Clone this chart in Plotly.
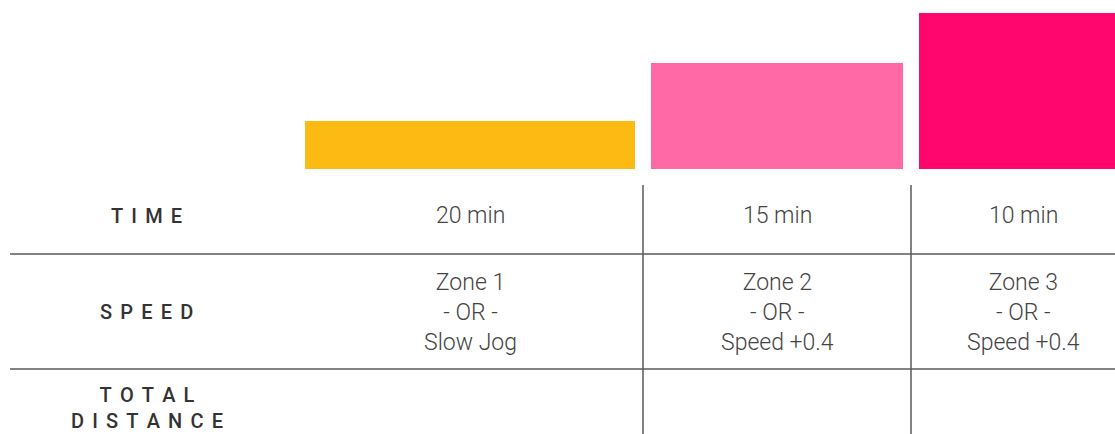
import plotly.graph_objects as go

# ---- data ----
zones = ["Zone 1", "Zone 2", "Zone 3"]
intensity = [1.0, 2.2, 3.25]
times = ["20 min", "15 min", "10 min"]
speeds = ["Zone 1<br>- OR -<br>Slow Jog",
          "Zone 2<br>- OR -<br>Speed +0.4",
          "Zone 3<br>- OR -<br>Speed +0.4"]
row_labels = ["TIME", "SPEED", "TOTAL<br>DISTANCE"]
colors = ["#FDBA12", "#FF6AA6", "#FF066E"]

# ---- layout constants (pixels) ----
W, H = 1115, 434
col_edges = [297, 643, 911, 1135]
pad = 8
label_x = 146.5
bar_base_px = 169
unit_px = 48.0
table_top_px = 185
hlines_px = [254, 369]
row_centers_px = [216, 312, 408]
line_color = "#5a5a5a"
text_color = "#444444"


def py(px):
    return (H - px) / H


def spaced(s):
    return "<br>".join("\u2009\u2009".join(list(part)) for part in s.split("<br>"))


centers = [(col_edges[i] + col_edges[i + 1]) / 2 for i in range(3)]
widths = [col_edges[i + 1] - col_edges[i] - 2 * pad for i in range(3)]

fig = go.Figure()
fig.add_trace(go.Bar(
    x=centers, y=intensity, width=widths,
    marker=dict(color=colors, line=dict(width=0)),
    hoverinfo="skip", showlegend=False,
))

shapes = []
for ypx in hlines_px:
    shapes.append(dict(type="line", xref="x", yref="paper",
                       x0=10, x1=W, y0=py(ypx), y1=py(ypx),
                       line=dict(color=line_color, width=1.5)))
for xe in col_edges[1:3]:
    shapes.append(dict(type="line", xref="x", yref="paper",
                       x0=xe, x1=xe, y0=py(table_top_px), y1=0,
                       line=dict(color=line_color, width=1.5)))

annotations = []
label_font = dict(family="Roboto, Liberation Sans, sans-serif", size=20,
                  color="#333333", weight=500)
value_font = dict(family="Roboto, Liberation Sans, sans-serif", size=23,
                  color=text_color, weight=300)
for lab, ypx in zip(row_labels, row_centers_px):
    annotations.append(dict(x=label_x, y=py(ypx), xref="x", yref="paper",
                            text=spaced(lab), showarrow=False,
                            xanchor="center", yanchor="middle",
                            font=label_font))
for c, t in zip(centers, times):
    annotations.append(dict(x=c, y=py(row_centers_px[0]), xref="x", yref="paper",
                            text=t, showarrow=False, xanchor="center",
                            yanchor="middle", font=value_font))
for c, s in zip(centers, speeds):
    annotations.append(dict(x=c, y=py(row_centers_px[1]), xref="x", yref="paper",
                            text=s, showarrow=False, xanchor="center",
                            yanchor="middle", font=value_font))

fig.update_layout(
    width=W, height=H,
    margin=dict(l=0, r=0, t=0, b=0),
    paper_bgcolor="white", plot_bgcolor="white",
    xaxis=dict(range=[0, W], visible=False, fixedrange=True),
    yaxis=dict(domain=[py(bar_base_px), 1], range=[0, bar_base_px / unit_px],
               visible=False, fixedrange=True),
    shapes=shapes, annotations=annotations,
    bargap=0,
)

fig.write_html("out.html", config={"displayModeBar": False},
               post_script="document.body.style.margin='0';document.body.style.overflow='hidden';")
